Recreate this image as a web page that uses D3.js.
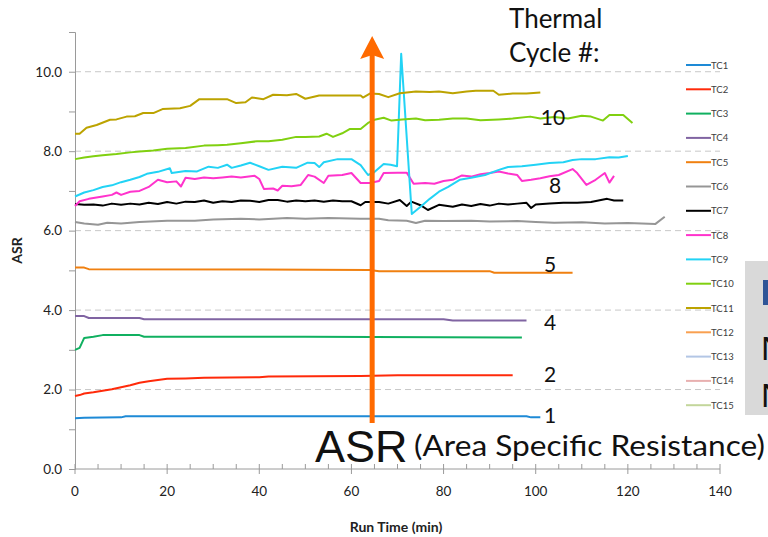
<!DOCTYPE html>
<html>
<head>
<meta charset="utf-8">
<script src="https://cdn.jsdelivr.net/npm/d3@7"></script>
<style>
  body { margin: 0; background: #fff; }
  svg { display: block; font-family: Lato, 'Open Sans', sans-serif; }
</style>
</head>
<body>
<svg id="chart" width="768" height="537"></svg>
<script>
// [run time (min), ASR]
const tc1 = [[0,1.28],[2,1.29],[10,1.30],[11,1.33],[30,1.33],[60,1.33],[98,1.33],[99,1.30],[101,1.30]];
const tc2 = [[0,1.84],[1,1.86],[2,1.90],[4,1.93],[6,1.97],[8,2.01],[10,2.06],[12,2.11],[14,2.17],[16,2.21],[18,2.24],[20,2.27],[24,2.28],[28,2.30],[40,2.31],[42,2.33],[62,2.34],[70,2.36],[95,2.36]];
const tc3 = [[0,3.0],[1,3.05],[2,3.30],[4,3.33],[6,3.37],[14,3.37],[15,3.33],[50,3.33],[97,3.31]];
const tc4 = [[0,3.85],[2,3.85],[3,3.80],[14,3.80],[15,3.77],[80,3.77],[82,3.74],[98,3.74]];
const tc5 = [[0,5.07],[2,5.07],[3,5.03],[40,5.02],[64,5.01],[66,4.98],[90,4.98],[91,4.94],[108,4.94]];
const tc6 = [[0,6.22],[2,6.18],[5,6.15],[7,6.20],[10,6.18],[14,6.22],[20,6.25],[26,6.25],[30,6.28],[36,6.30],[40,6.28],[46,6.32],[50,6.30],[55,6.32],[62,6.30],[66,6.30],[68,6.26],[72,6.25],[74,6.19],[76,6.25],[80,6.24],[86,6.25],[90,6.23],[96,6.24],[100,6.22],[104,6.20],[110,6.21],[115,6.18],[120,6.19],[126,6.17],[128,6.35]];
const tc7 = [[0,6.67],[2,6.65],[4,6.66],[6,6.63],[8,6.68],[10,6.65],[12,6.68],[14,6.66],[16,6.70],[18,6.67],[20,6.72],[22,6.68],[24,6.73],[26,6.72],[28,6.76],[30,6.70],[32,6.74],[34,6.72],[36,6.76],[38,6.75],[40,6.72],[42,6.77],[44,6.77],[46,6.73],[48,6.76],[50,6.74],[52,6.76],[54,6.73],[56,6.76],[58,6.74],[60,6.74],[62,6.64],[63,6.72],[66,6.72],[68,6.68],[70.5,6.77],[72,6.62],[73,6.73],[75,6.64],[76.6,6.52],[79,6.65],[82,6.60],[84,6.66],[86,6.62],[88,6.67],[90,6.63],[92,6.68],[94,6.66],[96,6.68],[98,6.70],[99,6.57],[100,6.66],[103,6.68],[106,6.70],[109,6.70],[112,6.72],[115.5,6.80],[117,6.76],[119,6.76]];
const tc8 = [[0,6.62],[1,6.74],[3,6.80],[6,6.86],[8,6.90],[9,6.96],[10,6.90],[12,6.98],[14,7.00],[16,7.10],[18,7.28],[20,7.22],[22,7.24],[23,7.11],[24,7.33],[26,7.30],[28,7.34],[30,7.32],[32,7.34],[34,7.36],[36,7.34],[39,7.38],[40,7.30],[41,7.05],[43,7.06],[44,7.01],[45,7.13],[47,7.12],[49,7.15],[50.6,7.40],[52,7.36],[54,7.20],[55,7.38],[58,7.40],[60,7.45],[62,7.20],[64,7.20],[66,7.25],[67,7.45],[70,7.46],[72,7.46],[73.5,7.18],[76,7.20],[78,7.18],[80,7.25],[82,7.28],[84,7.39],[86,7.36],[88,7.42],[90,7.45],[92,7.49],[94,7.44],[96,7.40],[97,7.25],[99,7.28],[101,7.32],[103,7.37],[105,7.40],[108,7.55],[109,7.45],[111,7.15],[113,7.28],[115,7.45],[116,7.21],[117,7.38]];
const tc9 = [[0,6.86],[2,6.96],[4,7.02],[6,7.10],[8,7.14],[10,7.22],[12,7.28],[14,7.35],[15.6,7.43],[18,7.48],[20.6,7.57],[21,7.45],[24,7.50],[26.5,7.49],[29,7.61],[31,7.58],[33,7.66],[34,7.58],[36,7.64],[38,7.71],[40,7.62],[42,7.53],[45,7.61],[48,7.58],[50.5,7.71],[52,7.70],[53,7.60],[54,7.72],[57,7.80],[60,7.80],[62,7.65],[63.6,7.40],[64.8,7.46],[67,7.68],[68.5,7.66],[69.9,7.62],[70.8,10.45],[73.1,6.42],[75,6.60],[77,6.80],[79,6.98],[81,7.10],[83.5,7.28],[86,7.33],[89,7.40],[92,7.53],[94,7.60],[97,7.62],[100,7.66],[103,7.70],[106,7.72],[108,7.78],[110,7.80],[113,7.80],[116,7.85],[118,7.84],[120,7.88]];
const tc10 = [[0,7.80],[2,7.84],[4,7.87],[6,7.90],[9,7.93],[12,7.97],[14,7.99],[17,8.02],[20,8.06],[24,8.08],[28,8.14],[31,8.15],[33,8.16],[36,8.20],[39.5,8.25],[42,8.25],[45,8.29],[48,8.36],[50,8.36],[53,8.37],[54.6,8.44],[56,8.36],[58,8.45],[59.7,8.56],[62,8.56],[63.6,8.71],[65,8.79],[67,8.84],[68.7,8.77],[71,8.80],[74,8.82],[76,8.78],[79,8.79],[82,8.82],[85,8.82],[88,8.78],[92,8.80],[95,8.82],[98.8,8.87],[101,8.82],[104,8.86],[107,8.82],[110,8.89],[112,8.87],[114.6,8.77],[116,8.91],[119,8.91],[121,8.71]];
const tc11 = [[0,8.44],[1,8.44],[2.5,8.59],[4.7,8.66],[7.6,8.79],[9,8.80],[11.2,8.87],[13,8.88],[14.8,8.96],[17,8.96],[19,9.06],[22.8,9.08],[25,9.14],[27,9.31],[30,9.31],[33,9.31],[35,9.21],[37,9.23],[38.4,9.35],[40.9,9.31],[43,9.42],[46,9.41],[48,9.44],[50,9.32],[53,9.40],[58,9.40],[62,9.40],[62.5,9.35],[64,9.45],[66,9.44],[68,9.36],[70.5,9.46],[74,9.50],[77,9.49],[79,9.50],[82,9.46],[85,9.50],[87,9.52],[90.8,9.52],[92,9.42],[95,9.45],[98,9.45],[101,9.48]];
const tc12 = [], tc13 = [], tc14 = [], tc15 = [];

const seriesNames = ['TC1','TC2','TC3','TC4','TC5','TC6','TC7','TC8','TC9','TC10','TC11','TC12','TC13','TC14','TC15'];
const seriesValues = [tc1,tc2,tc3,tc4,tc5,tc6,tc7,tc8,tc9,tc10,tc11,tc12,tc13,tc14,tc15];
const xTicks = [0,20,40,60,80,100,120,140];
const yTicks = [0,2,4,6,8,10];
const cycleLabels = [['1',1.36],['2',2.39],['4',3.70],['5',5.16],['8',7.15],['10',8.87]];

const colors = ['#1E8AD6','#FF2A0A','#10B060','#8064A2','#F08010','#969696','#000000','#FF33CC',
  '#22D3F5','#80D010','#BCA300','#F9A050','#B3C6E5','#E8B0B0','#C3D69B'];

const svg = d3.select('#chart');
const margin = { left: 75, right: 48, top: 32, bottom: 68 };
const width = 768, height = 537;

const x = d3.scaleLinear().domain([0, 140]).range([margin.left, width - margin.right]);
const y = d3.scaleLinear().domain([0, 11]).range([height - margin.bottom, margin.top]);

// gridlines
svg.append('g')
  .selectAll('line')
  .data(yTicks.filter(d => d > 0))
  .enter()
  .append('line')
  .attr('x1', x(0))
  .attr('x2', x(140))
  .attr('y1', d => y(d))
  .attr('y2', d => y(d))
  .attr('stroke', '#c8c8c8')
  .attr('stroke-dasharray', '6,4');

// y axis
const yAxis = svg.append('g')
  .attr('transform', `translate(${x(0)},0)`)
  .call(d3.axisLeft(y).tickValues(d3.range(0, 12)).tickSize(6).tickFormat(d => d % 2 === 0 ? d3.format('.1f')(d) : ''));
yAxis.select('.domain').attr('stroke', '#9a9a9a');
yAxis.selectAll('line').attr('stroke', '#9a9a9a');
yAxis.selectAll('text').attr('font-size', 13.5).attr('fill', '#222').attr('font-family', 'Lato').attr('x', -13);

// x axis: minor ticks every 5 above the line, major every 20 crossing it
const xg = svg.append('g').attr('transform', `translate(0,${y(0)})`);
xg.append('line').attr('x1', x(0)).attr('x2', x(140)).attr('stroke', '#9a9a9a');
xg.selectAll('.minor')
  .data(d3.range(0, 141, 5))
  .enter()
  .append('line')
  .attr('x1', d => x(d)).attr('x2', d => x(d))
  .attr('y1', -5)
  .attr('y2', d => (d % 20 === 0 ? 5 : 0))
  .attr('stroke', '#9a9a9a');
xg.selectAll('text')
  .data(xTicks)
  .enter()
  .append('text')
  .attr('x', d => x(d))
  .attr('y', 27)
  .attr('text-anchor', 'middle')
  .attr('font-size', 13.5)
  .attr('fill', '#222')
  .text(d => d);

// axis titles
svg.append('text')
  .attr('x', 396).attr('y', 532)
  .attr('text-anchor', 'middle')
  .attr('font-size', 14).attr('font-weight', 'bold')
  .attr('fill', '#222')
  .text('Run Time (min)');
svg.append('text')
  .attr('transform', `translate(22,${y(5.5)}) rotate(-90)`)
  .attr('text-anchor', 'middle')
  .attr('font-size', 14).attr('font-weight', 'bold')
  .attr('fill', '#222')
  .text('ASR');

// series lines
const line = d3.line().x(d => x(d[0])).y(d => y(d[1]));
svg.append('g')
  .selectAll('path')
  .data(seriesValues)
  .enter()
  .append('path')
  .attr('d', d => (d.length ? line(d) : null))
  .attr('fill', 'none')
  .attr('stroke', (d, i) => colors[i])
  .attr('stroke-width', 2)
  .attr('stroke-linejoin', 'round');

// legend
const legend = svg.append('g')
  .selectAll('g')
  .data(seriesNames)
  .enter()
  .append('g')
  .attr('transform', (d, i) => `translate(686,${65 + i * 24.3})`);
legend.append('line')
  .attr('x1', 0).attr('x2', 25)
  .attr('stroke', (d, i) => colors[i])
  .attr('stroke-width', 2);
legend.append('text')
  .attr('x', 25).attr('y', 3.5)
  .attr('font-size', 9.5)
  .attr('fill', '#404040')
  .text(d => d);

// cycle number labels
svg.append('g')
  .selectAll('text')
  .data(cycleLabels)
  .enter()
  .append('text')
  .attr('x', d => (d[0] === '8' ? 555 : d[0] === '10' ? 553 : 550))
  .attr('y', d => y(d[1]) + 8)
  .attr('text-anchor', 'middle')
  .attr('font-size', 21)
  .attr('fill', '#111')
  .text(d => d[0]);

svg.append('text').attr('x', 509).attr('y', 28).attr('font-size', 26).attr('fill', '#111').text('Thermal');
svg.append('text').attr('x', 509).attr('y', 62).attr('font-size', 26).attr('fill', '#111').text('Cycle #:');

// arrow
const arrowX = x(64.5);
svg.append('line')
  .attr('x1', arrowX).attr('x2', arrowX)
  .attr('y1', 423).attr('y2', 52)
  .attr('stroke', '#FF6A00').attr('stroke-width', 5);
svg.append('path')
  .attr('d', `M${arrowX},36 L${arrowX + 12},59 L${arrowX},55 L${arrowX - 12},59 Z`)
  .attr('fill', '#FF6A00');

// big ASR caption
svg.append('text')
  .attr('x', 315).attr('y', 462)
  .attr('font-family', "'Liberation Sans', Arial, sans-serif")
  .attr('font-size', 45)
  .attr('fill', '#111')
  .text('ASR');
svg.append('text')
  .attr('x', 414).attr('y', 456)
  .attr('font-size', 28)
  .attr('fill', '#111')
  .attr('textLength', 351)
  .attr('lengthAdjust', 'spacingAndGlyphs')
  .text('(Area Specific Resistance)');

// clipped side panel at the right edge
svg.append('rect').attr('x', 745).attr('y', 261).attr('width', 30).attr('height', 154).attr('fill', '#d9d9d9');
svg.append('rect').attr('x', 763).attr('y', 280).attr('width', 10).attr('height', 25).attr('fill', '#2F5597');
svg.append('text').attr('x', 761).attr('y', 360).attr('font-size', 34).attr('font-family', "'Liberation Sans', Arial").attr('fill', '#111').text('N');
svg.append('text').attr('x', 761).attr('y', 407).attr('font-size', 34).attr('font-family', "'Liberation Sans', Arial").attr('fill', '#111').text('N');
</script>
</body>
</html>
